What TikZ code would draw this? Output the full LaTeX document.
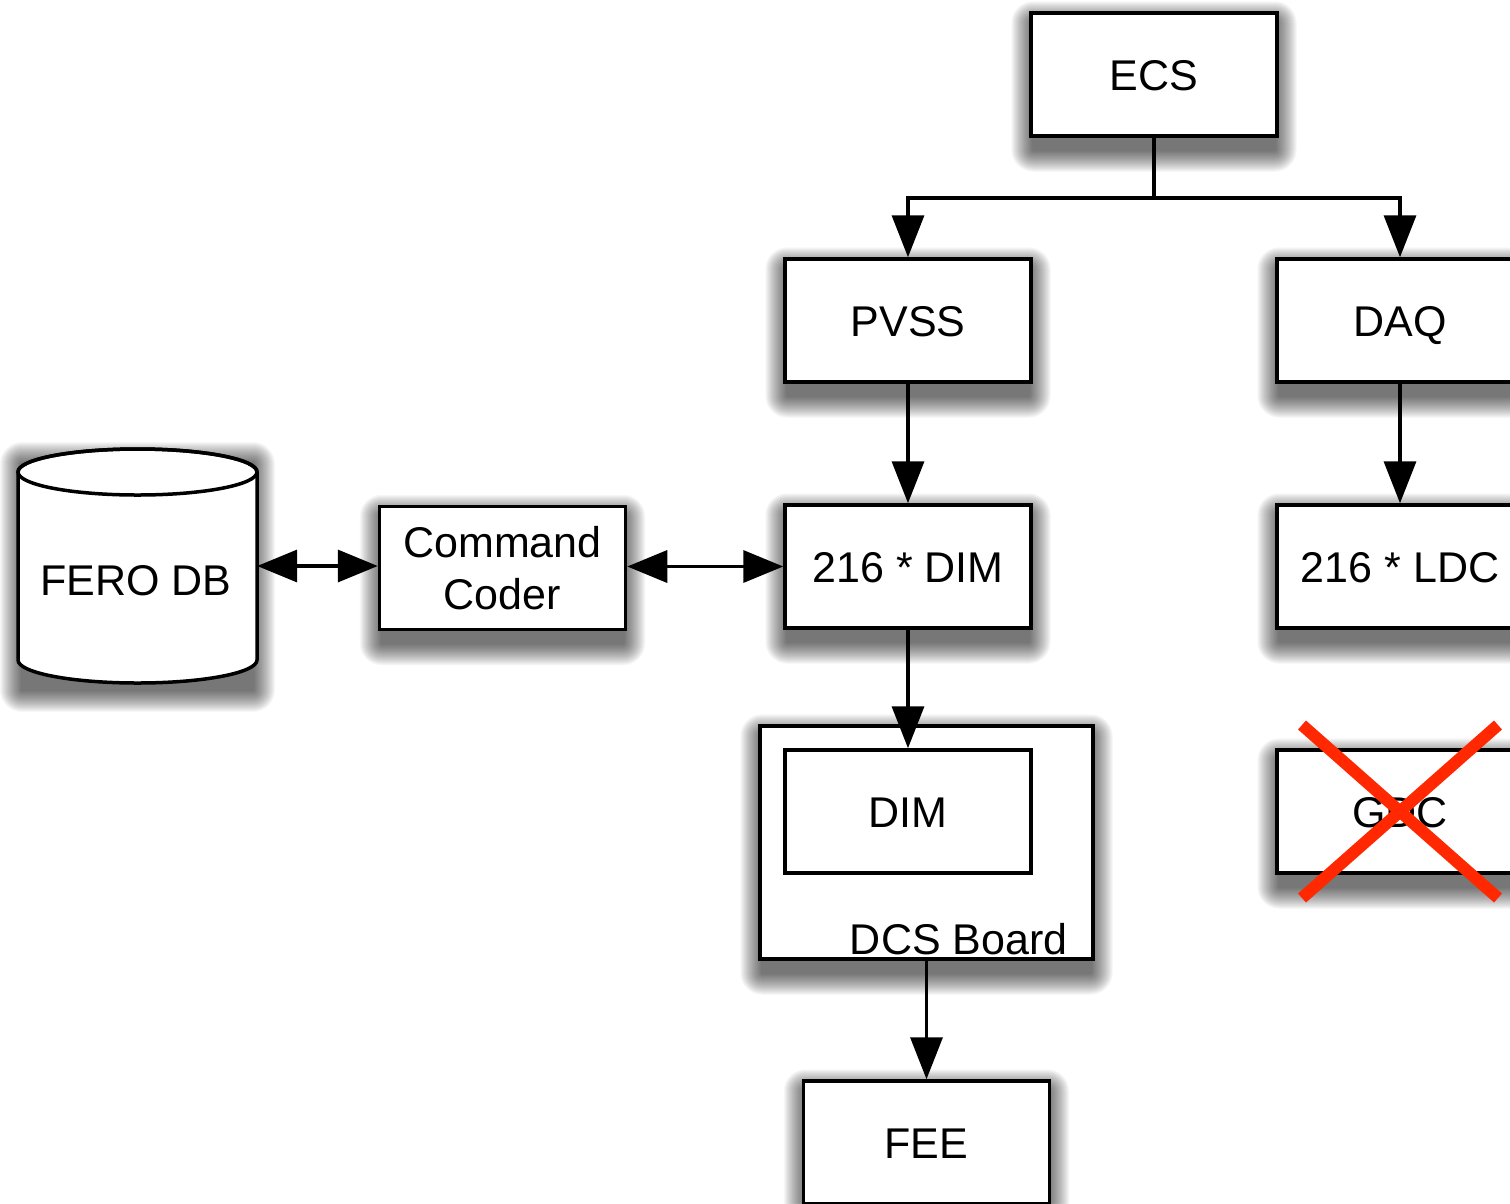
\documentclass[tikz,border=0pt]{standalone}
\usepackage{fontspec}
\setmainfont{Liberation Sans}
\usetikzlibrary{arrows.meta}
\definecolor{xred}{RGB}{255,40,0}
\pgfdeclarelayer{bg}
\pgfsetlayers{bg,main}
\newcommand\myshadow[2]{%
  \foreach \e in {1,...,22}{%
    \pgfmathsetmacro\ex{\e-4}
    \fill[black, opacity=0.032, rounded corners=\e pt]
      ([xshift=-\ex pt, yshift={-\e pt-12pt}]#1) rectangle ([xshift=\ex pt, yshift={\e pt-12pt}]#2);
  }}
\begin{document}
\begin{tikzpicture}[x=1pt,y=-1pt,
  lbl/.style={font=\fontsize{43}{52}\selectfont, align=center},
  one/.style={text height=31pt, text depth=0pt},
  blk/.style={draw=black, line width=3.5pt, fill=white, minimum width=246pt, minimum height=123pt, inner sep=0pt, lbl},
  arr/.style={draw=black, line width=3.5pt, -{Triangle[length=42pt,width=32pt,fill=black]}},
  darr/.style={draw=black, line width=3.5pt, {Triangle[length=40pt,width=32pt,fill=black]}-{Triangle[length=40pt,width=32pt,fill=black]}},
]
\useasboundingbox (0,0) rectangle (1510,1203);

% boxes
\node[blk, one] (ECS) at (1154,74.5) {ECS};
\node[blk, one] (PVSS) at (908,320.5) {PVSS};
\node[blk, one] (DAQ) at (1400,320.5) {DAQ};
\node[blk, one] (DIMa) at (908,566.5) {216 * DIM};
\node[blk, one] (LDC) at (1400,566.5) {216 * LDC};
\node[blk, one] (GDC) at (1400,811.5) {GDC};
\node[blk] (CC) at (502.5,568) {Command\\Coder};
\node[blk, minimum width=333pt, minimum height=233pt] (DCS) at (926.5,842.5) {};
\node[lbl, anchor=base east] (DCSl) at (1071,954) {DCS Board};
\node[blk, one] (DIMb) at (908,811.5) {DIM};
\node[blk, one] (FEE) at (926.5,1142.5) {FEE};

% cylinder
\path[draw=black, line width=3.5pt, fill=white] (18,472) -- (18,660)
  arc[start angle=180, end angle=0, x radius=119.5, y radius=23] -- (257,472)
  arc[start angle=0, end angle=-180, x radius=119.5, y radius=23] -- cycle;
\draw[line width=3.5pt] (137.5,472) ellipse[x radius=119.5, y radius=23];
\node[minimum width=239pt, minimum height=188pt, inner sep=0pt] (FERO) at (137.5,566) {};
\node[lbl, one] (FEROl) at (136,580) {FERO DB};
\coordinate (cylSW) at (18,678);
\coordinate (cylNE) at (257,452);

% shadows
\begin{pgfonlayer}{bg}
  \fill[white] (0,0) rectangle (1510,1203);
  \myshadow{ECS.south west}{ECS.north east}
  \myshadow{PVSS.south west}{PVSS.north east}
  \myshadow{DAQ.south west}{DAQ.north east}
  \myshadow{DIMa.south west}{DIMa.north east}
  \myshadow{LDC.south west}{LDC.north east}
  \myshadow{GDC.south west}{GDC.north east}
  \myshadow{CC.south west}{CC.north east}
  \myshadow{DCS.south west}{DCS.north east}
  \myshadow{FEE.south west}{FEE.north east}
  \myshadow{cylSW}{cylNE}
\end{pgfonlayer}

% connectors
\draw[line width=3.5pt] (ECS.south) -- ++(0,60) coordinate (split);
\draw[arr] (split) -| (PVSS.north);
\draw[arr] (split) -| (DAQ.north);
\draw[arr] (PVSS) -- (DIMa);
\draw[arr] (DAQ) -- (LDC);
\draw[arr] (DIMa) -- (DIMb);
\draw[arr] (DCS) -- (FEE);
\draw[darr] (FERO.east) -- (CC.west |- FERO.east);
\draw[darr] (CC.east |- DIMa.west) -- (DIMa.west);

% red cross
\draw[xred, line width=12pt] (1302,725) -- (1498,898);
\draw[xred, line width=12pt] (1498,725) -- (1302,898);
\end{tikzpicture}
\end{document}
